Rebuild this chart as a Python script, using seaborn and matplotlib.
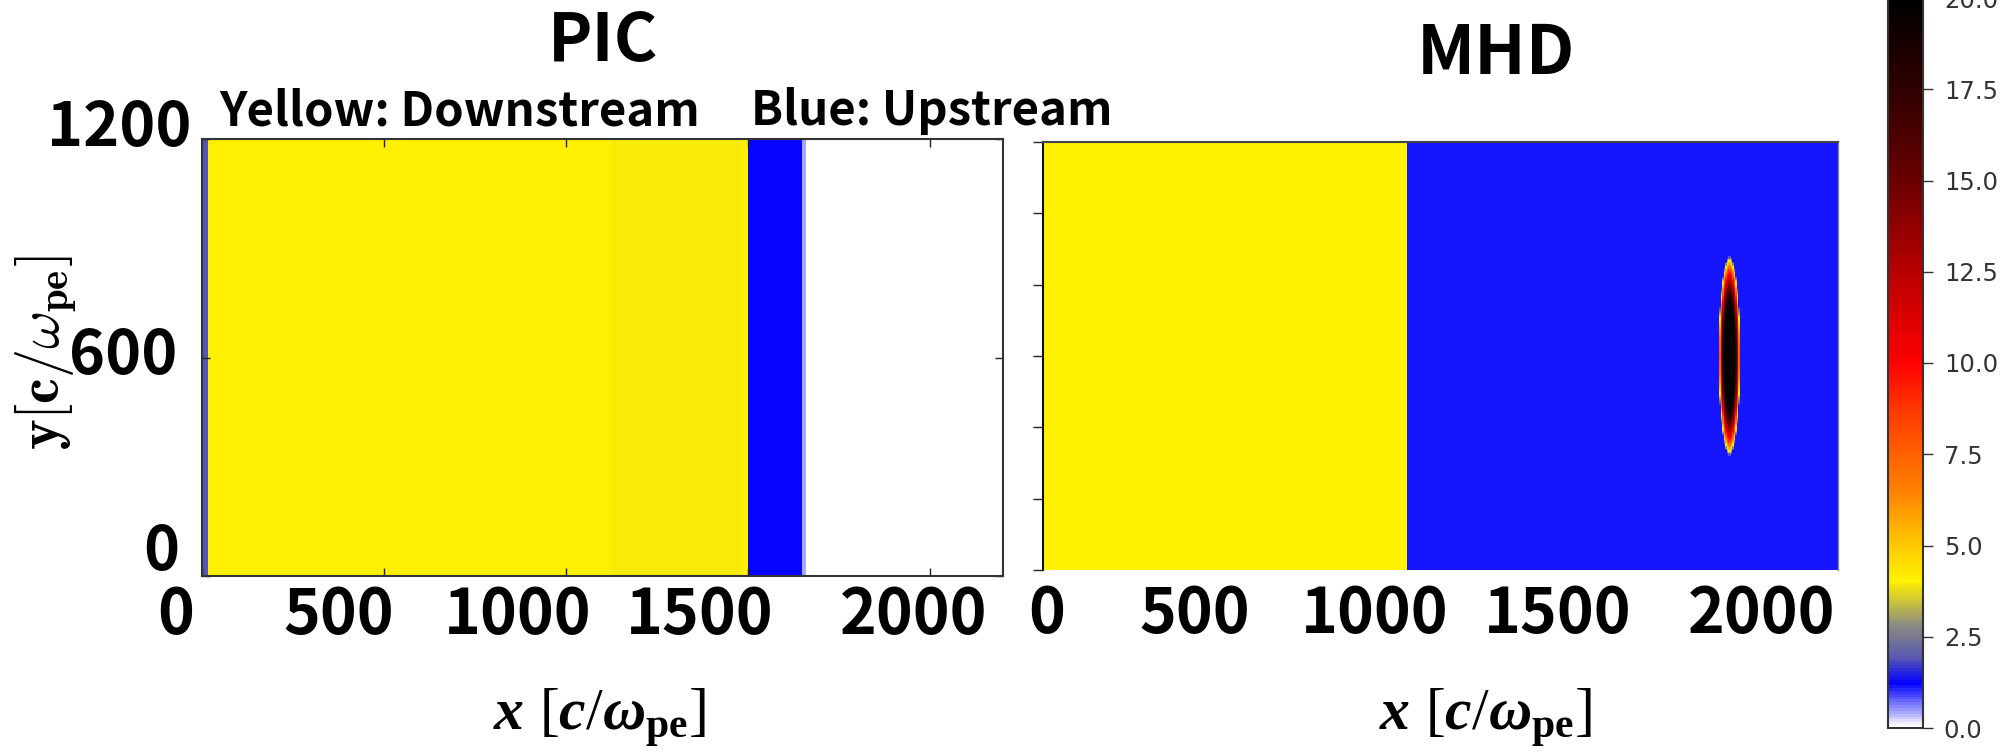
import numpy as np
import pandas as pd
import matplotlib
matplotlib.use("Agg")
import matplotlib.pyplot as plt
import seaborn as sns
from matplotlib.colors import LinearSegmentedColormap
from matplotlib.transforms import ScaledTranslation

# ---------------- data ----------------
x_range = [0, 2200]          # c/omega_pe
y_range = [0, 1200]
cell = 4                     # grid cell size in c/omega_pe

# PIC density bands along x (edges and values)
pic_band_edges = [0, 15, 1125, 1480, 1500, 1650, 1660, 2200]
pic_band_values = [1.9, 4.13, 3.94, 4.13, 1.2, 0.45, 0.0]

# MHD: downstream / upstream densities, shock position, dense blob
mhd_shock_x = 1010
mhd_downstream = 4.0
mhd_upstream = 1.1
blob_center = (1900, 600)
blob_semi_axes = (30, 283)
blob_peak = 20.0
blob_sharpness = 1.4

# colour scale
cbar_levels = [0.0, 0.5, 1.2, 1.9, 2.8, 3.4, 4.0, 5.0, 6.5, 8.5, 10.0, 12.5, 15.0, 17.5, 20.0]
cbar_colors = ["#FFFFFF", "#9090FF", "#0000FF", "#5858B0", "#8C8C80", "#C8C040", "#FFF200",
               "#FFC800", "#FF8000", "#FF4000", "#FF0000", "#B80000", "#6A0000", "#300000", "#000000"]
vmin, vmax = 0.0, 20.0

x_ticks = [0, 500, 1000, 1500, 2000]
x_tick_labels = ["0", "500", "1000", "1500", "2000"]
pic_y_ticks = [0, 600, 1200]
pic_y_tick_labels = ["0", "600", "1200"]
mhd_y_ticks = [0, 200, 400, 600, 800, 1000, 1200]
cbar_ticks = [0.0, 2.5, 5.0, 7.5, 10.0, 12.5, 15.0, 17.5, 20.0]

title_pic = "PIC"
title_mhd = "MHD"
note_down = "Yellow: Downstream"
note_up = "Blue: Upstream"

# ---------------- fields ----------------
xc = np.arange(x_range[0] + cell / 2, x_range[1], cell)
yc = np.arange(y_range[1] - cell / 2, y_range[0], -cell)
X, Y = np.meshgrid(xc, yc)

band_idx = np.searchsorted(pic_band_edges, xc, side="right") - 1
band_idx = np.clip(band_idx, 0, len(pic_band_values) - 1)
pic_field = np.tile(np.array(pic_band_values)[band_idx], (len(yc), 1))

base = np.where(X < mhd_shock_x, mhd_downstream, mhd_upstream)
r2 = ((X - blob_center[0]) / blob_semi_axes[0]) ** 2 + ((Y - blob_center[1]) / blob_semi_axes[1]) ** 2
blob = np.clip(blob_sharpness * (1 - r2), 0, 1)
mhd_field = base + (blob_peak - base) * blob

pic_df = pd.DataFrame(pic_field, index=yc, columns=xc)
mhd_df = pd.DataFrame(mhd_field, index=yc, columns=xc)

pos = [(v - vmin) / (vmax - vmin) for v in cbar_levels]
cmap = LinearSegmentedColormap.from_list("dens", list(zip(pos, cbar_colors)))

# ---------------- figure ----------------
W, H = 2014, 754
fig = plt.figure(figsize=(W / 100, H / 100), dpi=100)

def box(l, t, r, b):
    return [l / W, (H - b) / H, (r - l) / W, (b - t) / H]

ax1 = fig.add_axes(box(202, 139, 1003, 576))
ax2 = fig.add_axes(box(1043, 142, 1838, 570))
cax = fig.add_axes([1888 / W, 26 / H, 35 / W, 730 / H])

sns.heatmap(pic_df, ax=ax1, cmap=cmap, vmin=vmin, vmax=vmax, cbar=False,
            xticklabels=False, yticklabels=False, rasterized=True)
sns.heatmap(mhd_df, ax=ax2, cmap=cmap, vmin=vmin, vmax=vmax, cbar=True, cbar_ax=cax,
            xticklabels=False, yticklabels=False, rasterized=True)

col = lambda x: (x - x_range[0]) / cell
row = lambda y: (y_range[1] - y) / cell

jp = "Noto Sans CJK JP"
fam = [jp, "DejaVu Sans"]

def shift(labels, dxs, dys):
    for lab, dx, dy in zip(labels, dxs, dys):
        lab.set_transform(lab.get_transform() + ScaledTranslation(dx / 100, dy / 100, fig.dpi_scale_trans))

# PIC axes
ax1.set_xticks([col(v) for v in x_ticks])
ax1.set_xticklabels(x_tick_labels, fontsize=45, fontweight="bold", family=fam, rotation=0)
ax1.set_yticks([row(v) for v in pic_y_ticks])
ax1.set_yticklabels(pic_y_tick_labels, fontsize=44, fontweight="bold", family=fam, rotation=0)
ax1.tick_params(axis="x", direction="in", top=True, bottom=True, length=6, width=1, pad=2, color="#222222")
ax1.tick_params(axis="y", direction="in", left=True, right=True, length=6, width=1, pad=14, color="#222222")
shift(ax1.get_xticklabels(), [-26, -45, -48, -48, -17], [-5, -5, -5, -5, -5])
shift(ax1.get_yticklabels(), [-3, -5, 9], [30, 8, 17])
for sp in ax1.spines.values():
    sp.set_visible(True)
    sp.set_color("#333333")
    sp.set_linewidth(1.5)

# MHD axes
ax2.set_xticks([col(v) for v in x_ticks])
ax2.set_xticklabels(x_tick_labels, fontsize=45, fontweight="bold", family=fam, rotation=0)
ax2.set_yticks([row(v) for v in mhd_y_ticks])
ax2.set_yticklabels([])
ax2.tick_params(axis="x", length=0, pad=2)
ax2.tick_params(axis="y", direction="out", left=True, length=7, width=1, color="#222222")
shift(ax2.get_xticklabels(), [4, -29, -30, -27, -4], [-10, -10, -10, -10, -10])
for name, sp in ax2.spines.items():
    sp.set_visible(name != "bottom")
    sp.set_linewidth(1.5 if name in ("left", "top") else 1.0)
    sp.set_color({"left": "#111111", "top": "#444444", "right": "#888888"}.get(name, "#888888"))

# colorbar
cbar = ax2.collections[0].colorbar
cbar.set_ticks(cbar_ticks)
cbar.set_ticklabels([f"{t:.1f}" for t in cbar_ticks])
cax.tick_params(length=7, width=1, labelsize=17.5, labelcolor="#333333", color="#333333", pad=8)
for lab in cax.get_yticklabels():
    lab.set_family("DejaVu Sans")
cbar.outline.set_edgecolor("#333333")
cbar.outline.set_linewidth(1.5)

# titles & notes
def ft(x, y, s, **kw):
    fig.text(x / W, 1 - y / H, s, **kw)

ft(603, 42, title_pic, fontsize=48, fontweight="bold", family=fam, ha="center", va="center")
ft(1496, 55, title_mhd, fontsize=49, fontweight="bold", family=fam, ha="center", va="center")
ft(219, 111, note_down, fontsize=34, fontweight="bold", family=fam, ha="left", va="center")
ft(751, 111, note_up, fontsize=34, fontweight="bold", family=fam, ha="left", va="center")

# axis labels
plt.rcParams["mathtext.it"] = "Liberation Serif:italic:bold"
plt.rcParams["mathtext.bf"] = "Liberation Serif:bold"
plt.rcParams["mathtext.rm"] = "Liberation Serif"
xlab = r"$\mathit{x}\ [\mathit{c}/\omega_{\mathbf{pe}}]$"
ft(600, 718, xlab, fontsize=43, ha="center", va="center", math_fontfamily="custom")
ft(1486, 718, xlab, fontsize=43, ha="center", va="center", math_fontfamily="custom")
ft(46, 352, r"$\mathbf{y}[\mathbf{c}/\omega_{\mathbf{pe}}]$", fontsize=42, ha="center", va="center",
   rotation=90, math_fontfamily="cm")

fig.savefig("out.png", dpi=100)
